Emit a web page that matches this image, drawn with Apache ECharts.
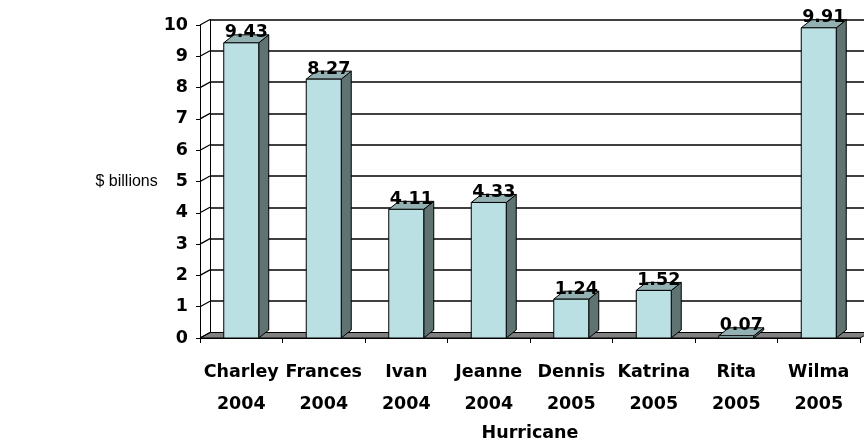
<!DOCTYPE html>
<html>
<head>
<meta charset="utf-8">
<script src="https://cdn.jsdelivr.net/npm/echarts@6/dist/echarts.min.js"></script>
<style>
  html, body { margin: 0; padding: 0; background: #fff; }
  #chart { width: 864px; height: 443px; }
</style>
</head>
<body>
<div id="chart"></div>
<script>
// Insured damage by hurricane, $ billions
const hurricanes = ['Charley', 'Frances', 'Ivan', 'Jeanne', 'Dennis', 'Katrina', 'Rita', 'Wilma'];
const years = ['2004', '2004', '2004', '2004', '2005', '2005', '2005', '2005'];
const damage = [9.43, 8.27, 4.11, 4.33, 1.24, 1.52, 0.07, 9.91];
const yTicks = [0, 1, 2, 3, 4, 5, 6, 7, 8, 9, 10];

const FONT = 'DejaVu Sans';
const BOLD = { fontFamily: FONT, fontWeight: 'bold', fontSize: 17.5, color: '#000' };

// depth offsets for the pseudo-3D look
const WALL_DX = 10, WALL_DY = -5.5;
const BAR_DX = 10, BAR_DY = -8;

const FRONT = '#bbe0e3';
const SIDE = '#5f7373';
const TOP = '#93b0b2';
const FLOOR = '#808080';

const labels = hurricanes.map((h, i) => h + '\n' + years[i]);

const chart = echarts.init(document.getElementById('chart'), null, { renderer: 'canvas' });

chart.setOption({
  animation: false,
  backgroundColor: '#fff',
  grid: [
    // front plane
    { left: 200, top: 25, width: 660, height: 313, containLabel: false, outerBoundsMode: 'none' },
    // back wall
    { left: 210, top: 19.5, width: 660, height: 313, containLabel: false, outerBoundsMode: 'none' }
  ],
  xAxis: [
    {
      type: 'category', gridIndex: 0, data: labels,
      axisLine: { lineStyle: { color: '#000', width: 1 } },
      axisTick: { show: true, length: 5, lineStyle: { color: '#000' } },
      axisLabel: Object.assign({ margin: 18, lineHeight: 32, interval: 0 }, BOLD),
      name: 'Hurricane', nameLocation: 'middle', nameGap: 85,
      nameTextStyle: BOLD
    },
    { type: 'category', gridIndex: 1, data: labels, show: false }
  ],
  yAxis: [
    {
      type: 'value', gridIndex: 0, min: 0, max: 10, interval: 1,
      axisLine: { show: true, lineStyle: { color: '#000', width: 1 } },
      axisTick: { show: true, length: 4, lineStyle: { color: '#000' } },
      axisLabel: Object.assign({ margin: 12 }, BOLD),
      splitLine: { show: false },
      name: '$ billions', nameLocation: 'middle', nameRotate: 0, nameGap: 40,
      nameTextStyle: { fontFamily: 'Liberation Sans', fontSize: 16, color: '#000', align: 'right', padding: [12, 0, 0, 0] }
    },
    {
      type: 'value', gridIndex: 1, min: 0, max: 10, interval: 1,
      axisLine: { show: true, lineStyle: { color: '#000', width: 1 } },
      axisTick: { show: false },
      axisLabel: { show: false },
      splitLine: { show: true, lineStyle: { color: '#000', width: 1.5 } }
    }
  ],
  series: [
    {
      // floor of the plot
      type: 'custom', xAxisIndex: 0, yAxisIndex: 0, z: 1,
      data: [[0, 0]],
      renderItem: function (params, api) {
        const cs = params.coordSys;
        const y0 = api.coord([0, 0])[1];
        return {
          type: 'polygon',
          shape: { points: [[cs.x, y0], [cs.x + cs.width, y0], [cs.x + cs.width + WALL_DX, y0 + WALL_DY], [cs.x + WALL_DX, y0 + WALL_DY]] },
          style: { fill: FLOOR, stroke: '#000', lineWidth: 1 }
        };
      }
    },
    {
      // slanted gridline segments on the left side wall
      type: 'custom', xAxisIndex: 0, yAxisIndex: 0, z: 2,
      data: yTicks.map(v => [0, v]),
      renderItem: function (params, api) {
        const cs = params.coordSys;
        const y = api.coord([0, api.value(1)])[1];
        return {
          type: 'line',
          shape: { x1: cs.x, y1: y, x2: cs.x + WALL_DX, y2: y + WALL_DY },
          style: { stroke: '#000', lineWidth: 1.2 }
        };
      }
    },
    {
      // 3D-looking bars with value labels
      type: 'custom', xAxisIndex: 0, yAxisIndex: 0, z: 3,
      data: damage.map((v, i) => [i, v]),
      encode: { x: 0, y: 1 },
      renderItem: function (params, api) {
        const idx = api.value(0), v = api.value(1);
        const top = api.coord([idx, v]);
        const base = api.coord([idx, 0]);
        const bw = api.size([1, 0])[0] * 0.424;
        const x0 = top[0] - bw / 2, x1 = top[0] + bw / 2;
        const yT = top[1], yB = base[1];
        const line = { stroke: '#000', lineWidth: 1 };
        return {
          type: 'group',
          children: [
            { type: 'polygon', shape: { points: [[x1, yB], [x1 + BAR_DX, yB + BAR_DY], [x1 + BAR_DX, yT + BAR_DY], [x1, yT]] },
              style: Object.assign({ fill: SIDE }, line) },
            { type: 'polygon', shape: { points: [[x0, yT], [x1, yT], [x1 + BAR_DX, yT + BAR_DY], [x0 + BAR_DX, yT + BAR_DY]] },
              style: Object.assign({ fill: TOP }, line) },
            { type: 'rect', shape: { x: x0, y: yT, width: bw, height: yB - yT },
              style: Object.assign({ fill: FRONT }, line) },
            { type: 'text', z2: 10,
              style: { x: top[0] + BAR_DX / 2, y: yT - 10, text: v.toFixed(2), align: 'center', verticalAlign: 'middle',
                       font: 'bold 17.5px "' + FONT + '"', fill: '#000' } }
          ]
        };
      }
    }
  ]
});
</script>
</body>
</html>
